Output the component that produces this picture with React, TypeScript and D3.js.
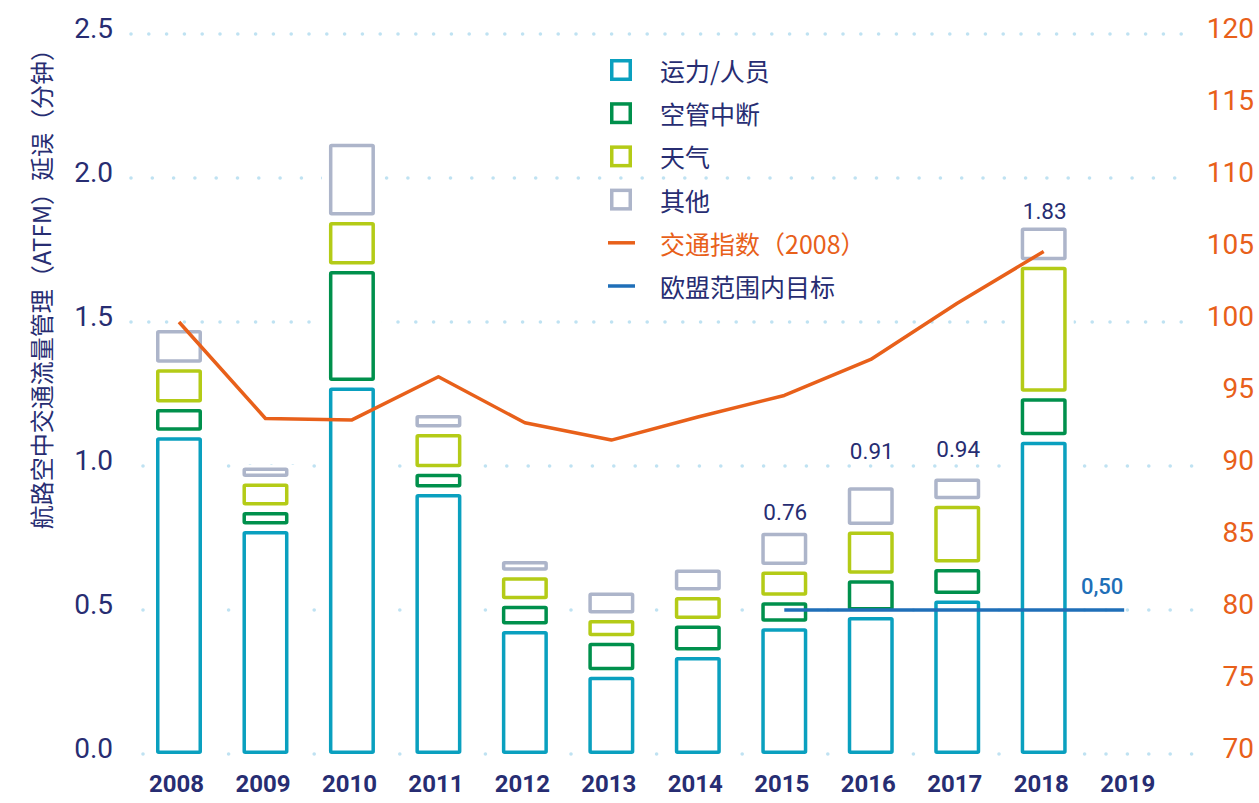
import React from "react";
import * as d3 from "d3";

// ---------- data ----------
const years = ["2008", "2009", "2010", "2011", "2012", "2013", "2014", "2015", "2016", "2017", "2018", "2019"];
const barYears = ["2008", "2009", "2010", "2011", "2012", "2013", "2014", "2015", "2016", "2017", "2018"];
const capacityStaffing = [1.1, 0.774, 1.273, 0.903, 0.427, 0.268, 0.337, 0.437, 0.476, 0.533, 1.084];
const atcDisruption = [0.098, 0.066, 0.404, 0.07, 0.088, 0.118, 0.109, 0.09, 0.127, 0.109, 0.151];
const weather = [0.138, 0.099, 0.17, 0.138, 0.099, 0.079, 0.099, 0.107, 0.17, 0.22, 0.457];
const other = [0.136, 0.056, 0.272, 0.066, 0.056, 0.096, 0.096, 0.134, 0.153, 0.095, 0.136];
const trafficIndex = [100, 93.3, 93.2, 96.2, 93.0, 91.8, 93.4, 94.9, 97.4, 101.3, 104.9];
const targetYears = ["2015", "2019"];
const targetValue = 0.5;
const targetLabel = "0,50";
const totalLabelYears = ["2015", "2016", "2017", "2018"];
const totalLabels = ["0.76", "0.91", "0.94", "1.83"];
const leftTicks = [0, 0.5, 1.0, 1.5, 2.0, 2.5];
const rightTicks = [70, 75, 80, 85, 90, 95, 100, 105, 110, 115, 120];
const seriesNames = ["运力/人员", "空管中断", "天气", "其他"];
const lineNames = ["交通指数（2008）", "欧盟范围内目标"];
const yTitle = "航路空中交通流量管理（ATFM）延误（分钟）";

// ---------- styles ----------
const W = 1259;
const H = 803;
const NAVY = "#272d72";
const ORANGE = "#e8601a";
const BLUE = "#1f6fb8";
const GRID = "#bfe2f2";
const seriesColors = ["#0aa0bf", "#00904c", "#b4cb17", "#adb5ca"];
const NUM_FONT = "Roboto, 'Noto Sans', sans-serif";
const CJK_FONT = "'Noto Sans CJK SC', 'Noto Sans', sans-serif";
const BAR_W = 46;
const SEG_GAP = 6.5;
const SW = 3.5;
const labelOffsets = [13, 28, 21, 9];
const gridRowStyle: Record<string, { start: number; step: number }> = {
  "2.5": { start: 131, step: 17.8 },
  "2.0": { start: 131, step: 21.3 },
  "1.5": { start: 131, step: 17.8 },
  "1.0": { start: 143, step: 21.4 },
  "0.5": { start: 143, step: 21.4 },
  "0.0": { start: 143, step: 21.4 },
};
const GRID_END = 1195;

export default function App() {
  const x = d3.scalePoint<string>().domain(years).range([179, 179 + 11 * 86.47]);
  const y = d3.scaleLinear().domain([0, 2.5]).range([754, 34]);
  const yR = d3.scaleLinear().domain([70, 120]).range([754, 34]);
  const fmt = d3.format(".1f");

  const series = [capacityStaffing, atcDisruption, weather, other];
  const bars = barYears.map((yr, i) => {
    let cum = 0;
    const segs = series.map((s, k) => {
      const y0 = cum;
      const y1 = cum + s[i];
      cum = y1;
      const outerTop = y(y1);
      const outerBottom = y(y0) - (k > 0 ? SEG_GAP : 0);
      return { k, outerTop, outerBottom };
    });
    return { yr, cx: x(yr) as number, total: cum, segs };
  });

  const line = d3
    .line<number>()
    .x((_, i) => x(barYears[i]) as number)
    .y((d) => yR(d));

  return (
    <div style={{ position: "absolute", left: 0, top: 0 }}>
      <svg width={W} height={H} style={{ display: "block", background: "#fff" }}>
        {/* grid dots */}
        {leftTicks.map((t) => {
          const st = gridRowStyle[fmt(t)];
          const xs = d3.range(st.start, GRID_END + 0.1, st.step);
          return (
            <g key={"g" + t}>
              {xs.map((xx, j) => (
                <circle key={j} cx={xx} cy={y(t)} r={1.8} fill={GRID} />
              ))}
            </g>
          );
        })}

        {/* white halos behind bars */}
        {bars.map((b) => (
          <rect
            key={"h" + b.yr}
            x={b.cx - BAR_W / 2 - 7}
            y={y(b.total) - 2.5}
            width={BAR_W + 14}
            height={y(0) - y(b.total) + 6}
            fill="#fff"
          />
        ))}

        {/* bar segments */}
        {bars.map((b) =>
          b.segs.map((s) => (
            <rect
              key={b.yr + "-" + s.k}
              x={b.cx - BAR_W / 2 + SW / 2}
              y={s.outerTop + SW / 2}
              width={BAR_W - SW}
              height={Math.max(0.5, s.outerBottom - s.outerTop - SW)}
              fill="#fff"
              stroke={seriesColors[s.k]}
              strokeWidth={SW}
              rx={1}
            />
          ))
        )}

        {/* traffic index line */}
        <path d={line(trafficIndex) || ""} fill="none" stroke={ORANGE} strokeWidth={3.5} strokeLinejoin="round" />

        {/* EU-wide target */}
        <line
          x1={x(targetYears[0]) as number}
          x2={(x(targetYears[1]) as number) - 6}
          y1={y(targetValue)}
          y2={y(targetValue)}
          stroke={BLUE}
          strokeWidth={3.5}
        />
        <text
          x={(x(targetYears[1]) as number) - 28}
          y={y(targetValue) - 16}
          textAnchor="middle"
          fontFamily={NUM_FONT}
          fontWeight={500}
          fontSize={22}
          fill={BLUE}
        >
          {targetLabel}
        </text>

        {/* total labels */}
        {totalLabelYears.map((yr, i) => {
          const b = bars.find((bb) => bb.yr === yr)!;
          return (
            <text
              key={"tl" + yr}
              x={b.cx + 1}
              y={y(b.total) - labelOffsets[i]}
              textAnchor="middle"
              fontFamily={NUM_FONT}
              fontSize={22.5}
              fill={NAVY}
            >
              {totalLabels[i]}
            </text>
          );
        })}

        {/* left ticks */}
        {leftTicks.map((t) => (
          <text
            key={"lt" + t}
            x={113}
            y={y(t) + 3.5}
            textAnchor="end"
            fontFamily={NUM_FONT}
            fontSize={28}
            fill={NAVY}
          >
            {fmt(t)}
          </text>
        ))}

        {/* right ticks */}
        {rightTicks.map((t) => (
          <text
            key={"rt" + t}
            x={1254}
            y={yR(t) + 3.5}
            textAnchor="end"
            fontFamily={NUM_FONT}
            fontSize={28}
            fill={ORANGE}
          >
            {t}
          </text>
        ))}

        {/* x labels */}
        {years.map((yr) => (
          <text
            key={"x" + yr}
            x={(x(yr) as number) - 2.5}
            y={792}
            textAnchor="middle"
            fontFamily={NUM_FONT}
            fontWeight={700}
            fontSize={24}
            fill={NAVY}
          >
            {yr}
          </text>
        ))}

        {/* y title */}
        <text
          transform="translate(40,283) rotate(-90)"
          textAnchor="middle"
          dominantBaseline="central"
          fontFamily={CJK_FONT}
          fontSize={24}
          fill={NAVY}
        >
          {yTitle}
        </text>

        {/* legend */}
        {seriesNames.map((n, i) => {
          const cy = 70 + i * 43.2;
          return (
            <g key={"lg" + i}>
              <rect
                x={610 + SW / 2}
                y={cy - 11 + SW / 2}
                width={22 - SW}
                height={22 - SW}
                fill="#fff"
                stroke={seriesColors[i]}
                strokeWidth={SW}
              />
              <text x={660} y={cy} dominantBaseline="central" fontFamily={CJK_FONT} fontSize={25} fill={NAVY}>
                {n}
              </text>
            </g>
          );
        })}
        {lineNames.map((n, i) => {
          const cy = 70 + (i + 4) * 43.2;
          const c = i === 0 ? ORANGE : BLUE;
          return (
            <g key={"ll" + i}>
              <line x1={608} x2={635} y1={cy} y2={cy} stroke={c} strokeWidth={3.5} />
              <text
                x={660}
                y={cy}
                dominantBaseline="central"
                fontFamily={CJK_FONT}
                fontSize={25}
                fill={i === 0 ? ORANGE : NAVY}
              >
                {n}
              </text>
            </g>
          );
        })}
      </svg>
    </div>
  );
}
